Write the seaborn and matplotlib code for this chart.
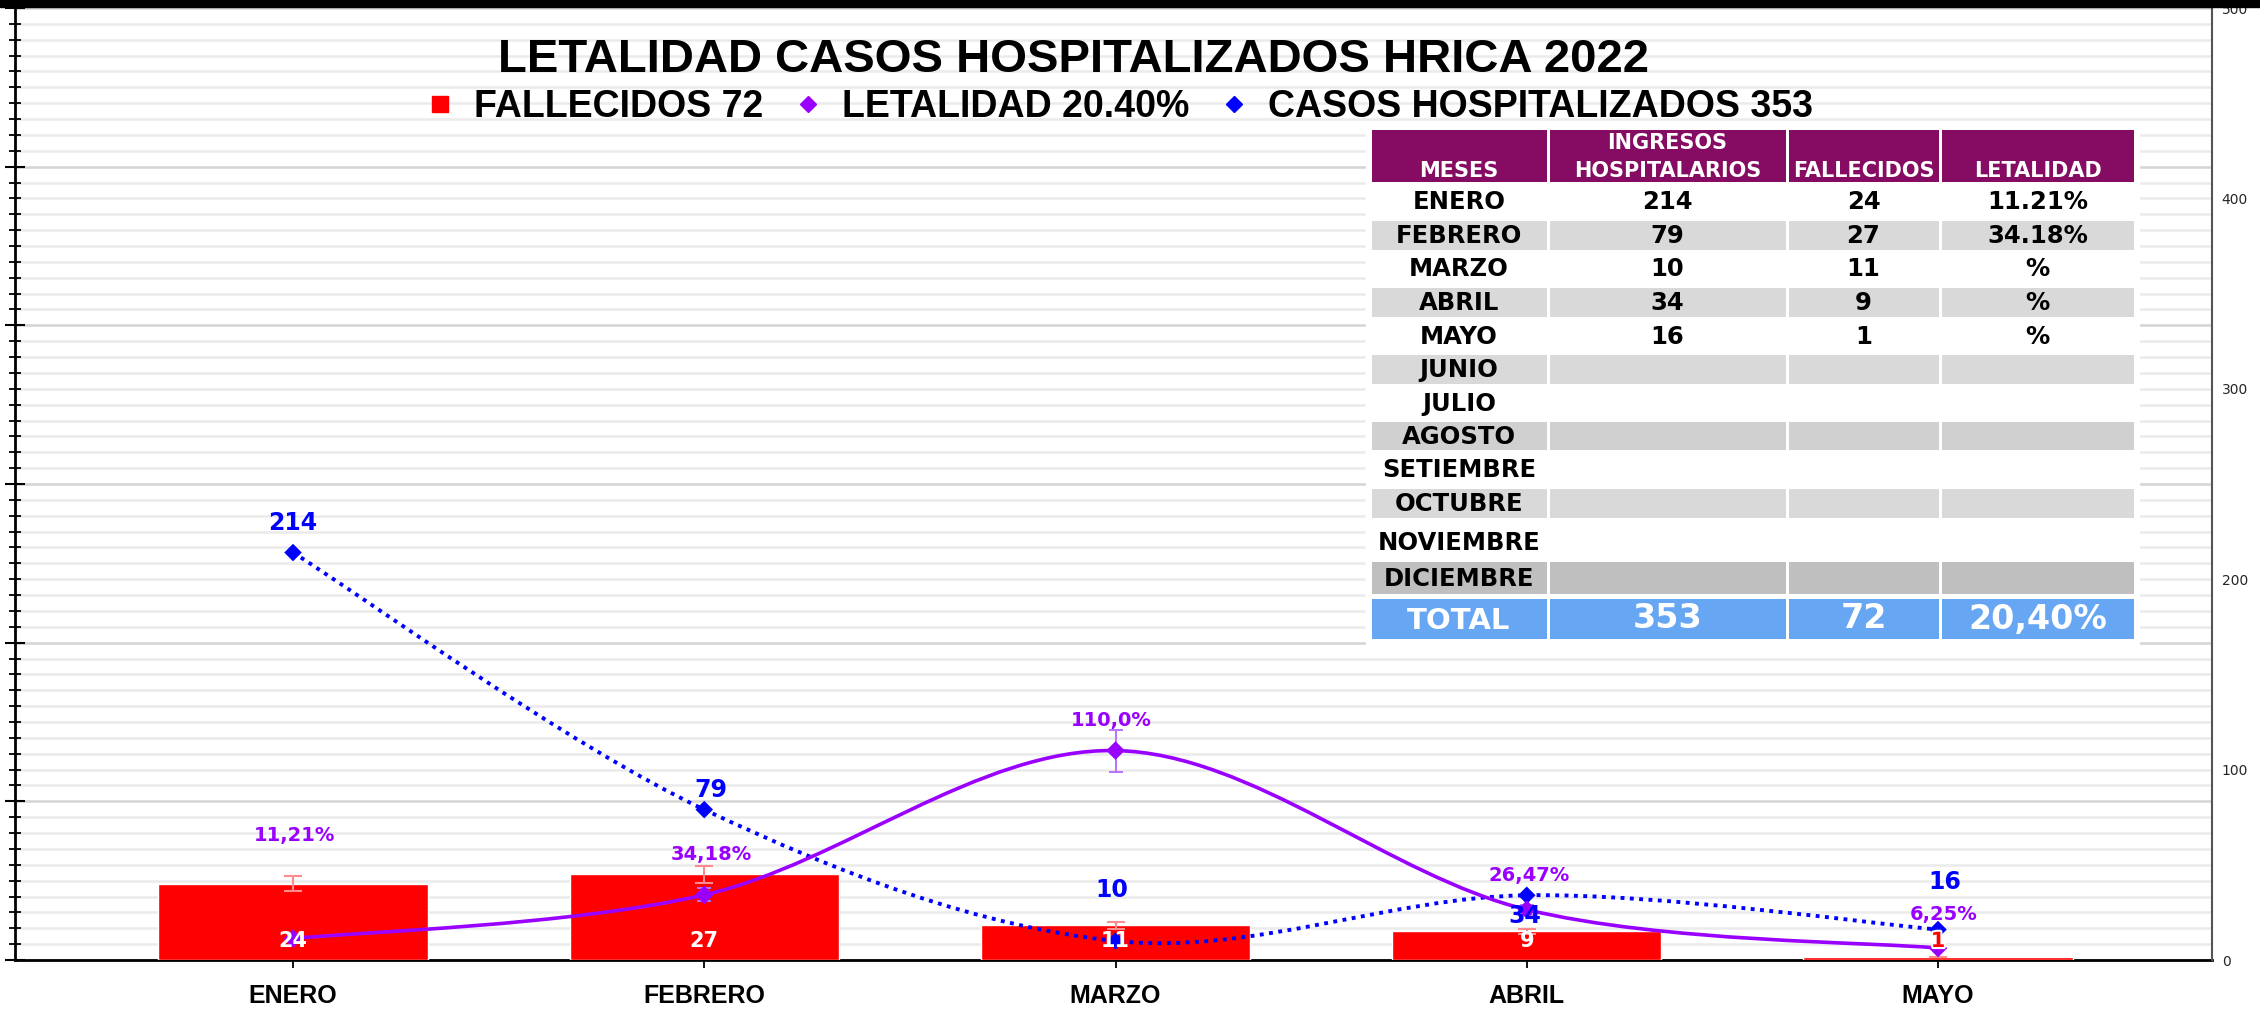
import numpy as np
import pandas as pd
import matplotlib
matplotlib.use("Agg")
import matplotlib.pyplot as plt
import seaborn as sns
from matplotlib.path import Path
from matplotlib.patches import PathPatch, Rectangle
from matplotlib.lines import Line2D
from matplotlib.ticker import MultipleLocator
import matplotlib.patheffects as pe

# ---------------- data ----------------
meses = ["ENERO", "FEBRERO", "MARZO", "ABRIL", "MAYO"]
fallecidos = [24, 27, 11, 9, 1]
hospitalizados = [214, 79, 10, 34, 16]
letalidad = [11.21, 34.18, 110.0, 26.47, 6.25]
letalidad_labels = ["11,21%", "34,18%", "110,0%", "26,47%", "6,25%"]

titulo = "LETALIDAD CASOS HOSPITALIZADOS HRICA 2022"
legend_labels = ["FALLECIDOS 72", "LETALIDAD 20.40%", "CASOS HOSPITALIZADOS 353"]

tabla_header = ["MESES", "INGRESOS", "HOSPITALARIOS", "FALLECIDOS", "LETALIDAD"]
tabla_meses = ["ENERO", "FEBRERO", "MARZO", "ABRIL", "MAYO", "JUNIO", "JULIO",
               "AGOSTO", "SETIEMBRE", "OCTUBRE", "NOVIEMBRE", "DICIEMBRE"]
tabla_ingresos = ["214", "79", "10", "34", "16", "", "", "", "", "", "", ""]
tabla_fallecidos = ["24", "27", "11", "9", "1", "", "", "", "", "", "", ""]
tabla_letalidad = ["11.21%", "34.18%", "%", "%", "%", "", "", "", "", "", "", ""]
tabla_total = ["TOTAL", "353", "72", "20,40%"]

err_frac = 0.10  # Excel percentage error bars

# ---------------- style ----------------
sns.set_theme(style="white")
plt.rcParams["font.family"] = ["DejaVu Sans"]
plt.rcParams["text.color"] = "black"

W, H = 2260, 1011
fig = plt.figure(figsize=(W / 100, H / 100), dpi=100, facecolor="white")

X_L, X_R, Y_T, Y_B = 15, 2212, 8, 960
ax = fig.add_axes([X_L / W, 1 - Y_B / H, (X_R - X_L) / W, (Y_B - Y_T) / H])
ax.set_facecolor("white")

df = pd.DataFrame({"mes": meses, "fallecidos": fallecidos,
                   "hosp": hospitalizados, "let": letalidad})
idx = np.arange(len(meses))

RED = "#FF0000"
PURPLE = "#9A00FF"
BLUE = "#0000FF"

sns.barplot(data=df, x="mes", y="fallecidos", color=RED, width=0.655,
            saturation=1, errorbar=None, ax=ax, zorder=2.6)
ax.errorbar(idx, fallecidos, yerr=[v * err_frac for v in fallecidos], fmt="none",
            ecolor="#FF8C8C", elinewidth=1.5, capsize=6.5, capthick=1.5, zorder=3)

ax.set_ylim(0, 300)
ax.yaxis.set_major_locator(MultipleLocator(50))
ax.yaxis.set_minor_locator(MultipleLocator(5))
ax.grid(axis="y", which="minor", color="#EBEBEB", lw=1.8)
ax.grid(axis="y", which="major", color="#D4D4D4", lw=1.8)
ax.grid(axis="x", visible=False)
ax.set_axisbelow(True)
ax.set_xlabel("")
ax.set_ylabel("")
ax.tick_params(axis="y", which="major", direction="inout", length=14, width=1.5,
               color="black", labelleft=False, left=True)
ax.tick_params(axis="y", which="minor", direction="inout", length=8, width=1.3,
               color="black", left=True)
ax.set_xticks(idx)
ax.set_xticklabels(meses, fontsize=18, family="Liberation Sans", weight="bold",
                   color="black")
ax.tick_params(axis="x", direction="inout", length=11, width=1.3, color="black",
               pad=12, bottom=True)
for s in ["top", "right"]:
    ax.spines[s].set_visible(False)
ax.spines["left"].set_color("black")
ax.spines["left"].set_linewidth(2)
ax.spines["bottom"].set_color("black")
ax.spines["bottom"].set_linewidth(2)

# ---------------- secondary axis ----------------
ax2 = ax.twinx()
ax2.set_ylim(0, 500)
ax2.set_yticks(range(0, 501, 100))
ax2.tick_params(axis="y", length=0, pad=7, labelsize=10, labelcolor="#262626")
ax2.grid(False)
for s in ["top", "left", "bottom"]:
    ax2.spines[s].set_visible(False)
ax2.spines["right"].set_color("#555555")
ax2.spines["right"].set_linewidth(1.5)


def smooth_path(xs, ys):
    pts = np.column_stack([xs, ys]).astype(float)
    n = len(pts)
    verts = [pts[0]]
    codes = [Path.MOVETO]
    for i in range(n - 1):
        p0 = pts[i - 1] if i > 0 else pts[i]
        p1 = pts[i]
        p2 = pts[i + 1]
        p3 = pts[i + 2] if i + 2 < n else pts[i + 1]
        verts += [p1 + (p2 - p0) / 6.0, p2 - (p3 - p1) / 6.0, p2]
        codes += [Path.CURVE4] * 3
    return Path(verts, codes)


ax2.add_patch(PathPatch(smooth_path(idx, hospitalizados), fc="none", ec=BLUE,
                        lw=2.8, ls=(0, (1, 1.4)), zorder=3))
ax2.add_patch(PathPatch(smooth_path(idx, letalidad), fc="none", ec=PURPLE,
                        lw=2.6, zorder=4))
ax2.errorbar(idx, letalidad, yerr=[v * err_frac for v in letalidad], fmt="none",
             ecolor="#B870FF", elinewidth=1.4, capsize=5, capthick=1.4, zorder=4)
sns.scatterplot(x=idx, y=hospitalizados, ax=ax2, marker="D", s=80, color=BLUE,
                edgecolor="none", zorder=5, legend=False)
sns.scatterplot(x=idx, y=letalidad, ax=ax2, marker="D", s=90, color=PURPLE,
                edgecolor="none", zorder=6, legend=False)
ax2.set_ylabel("")
ax2.set_xlabel("")

# data labels (offsets in pixels)
hosp_off = [(0, 30), (7, 20), (-4, 51), (-2, -21), (7, 48)]
let_off = [(1, 103), (7, 40), (-4, 30), (2, 34), (6, 34)]
for i in idx:
    ax2.annotate(str(hospitalizados[i]), xy=(i, hospitalizados[i]),
                 xytext=hosp_off[i], textcoords="offset pixels", ha="center",
                 va="center", fontsize=17, weight="bold", color=BLUE, zorder=8)
    ax2.annotate(letalidad_labels[i], xy=(i, letalidad[i]),
                 xytext=let_off[i], textcoords="offset pixels", ha="center",
                 va="center", fontsize=14, weight="bold", color=PURPLE, zorder=8)
    small = fallecidos[i] < 5
    t = ax2.annotate(str(fallecidos[i]), xy=(i, 0), xycoords=ax.transData,
                     xytext=(0, 19), textcoords="offset pixels", ha="center",
                     va="center", fontsize=15, weight="bold",
                     color=RED if small else "white", zorder=9)
    if small:
        t.set_path_effects([pe.withStroke(linewidth=3, foreground="white")])

ax.set_xlim((X_L - 293) / 411.25, (X_R - 293) / 411.25)

# ---------------- title & legend ----------------
fig.text(1074 / W, 1 - 60 / H, titulo, ha="center", va="center", fontsize=34,
         weight="bold", family="Liberation Sans", color="black")
handles = [Line2D([], [], ls="none", marker="s", markersize=12, color=RED),
           Line2D([], [], ls="none", marker="D", markersize=8, color=PURPLE),
           Line2D([], [], ls="none", marker="D", markersize=8, color=BLUE)]
leg = fig.legend(handles, legend_labels, loc="center", ncol=3,
                 bbox_to_anchor=(1117 / W, 1 - 107 / H), frameon=False,
                 prop={"family": "Liberation Sans", "size": 27, "weight": "bold"},
                 handlelength=1.0, handletextpad=0.4, columnspacing=0.7,
                 borderpad=0, labelcolor="black")

# ---------------- table overlay (pixel coordinates) ----------------
tax = fig.add_axes([0, 0, 1, 1], zorder=20)
tax.set_xlim(0, W)
tax.set_ylim(H, 0)
tax.axis("off")

col_x = [1370, 1548, 1787, 1940, 2135]
hdr = (128, 183)
rows_y = [(183, 219), (219, 251), (251, 286), (286, 318), (318, 353), (353, 385),
          (385, 420), (420, 451), (451, 487), (487, 519), (527, 558), (560, 595)]
tot = (597, 640)
row_fill = ["white", "#D9D9D9", "white", "#D9D9D9", "white", "#D9D9D9", "white",
            "#D0D0D0", "white", "#D9D9D9", "white", "#BFBFBF"]
g = 1.5

tax.add_patch(Rectangle((1366, 124), 773, 520, color="white", zorder=1))


def cell(c, y0, y1, color):
    tax.add_patch(Rectangle((col_x[c] + g, y0 + g), col_x[c + 1] - col_x[c] - 2 * g,
                            y1 - y0 - 2 * g, color=color, lw=0, zorder=2))


def cx(c):
    return (col_x[c] + col_x[c + 1]) / 2


for c in range(4):
    cell(c, hdr[0], hdr[1], "#850C62")
hdr_kw = dict(ha="center", va="center", color="white", fontsize=15,
              weight="bold", zorder=3)
tax.text(cx(0), 171, tabla_header[0], **hdr_kw)
tax.text(cx(1), 143, tabla_header[1], **hdr_kw)
tax.text(cx(1), 171, tabla_header[2], **hdr_kw)
tax.text(cx(2), 171, tabla_header[3], **hdr_kw)
tax.text(cx(3), 171, tabla_header[4], **hdr_kw)

body_kw = dict(ha="center", va="center", color="black", fontsize=17.5,
               weight="bold", zorder=3)
for r, (y0, y1) in enumerate(rows_y):
    for c in range(4):
        cell(c, y0, y1, row_fill[r])
    ym = (y0 + y1) / 2 + 1
    tax.text(cx(0), ym, tabla_meses[r], **body_kw)
    tax.text(cx(1), ym, tabla_ingresos[r], **body_kw)
    tax.text(cx(2), ym, tabla_fallecidos[r], **body_kw)
    tax.text(cx(3), ym, tabla_letalidad[r], **body_kw)

for c in range(4):
    cell(c, tot[0], tot[1], "#66A6F2")
tax.text(cx(0), 621, tabla_total[0], ha="center", va="center", color="white",
         fontsize=21, weight="bold", zorder=3)
for c in range(1, 4):
    tax.text(cx(c), 619, tabla_total[c], ha="center", va="center", color="white",
             fontsize=24, weight="bold", zorder=3)

# top black band
fig.add_artist(Rectangle((0, 1 - 7 / H), 1, 7 / H, transform=fig.transFigure,
                         color="black", zorder=50))

fig.savefig("out.png", dpi=100, facecolor="white")
